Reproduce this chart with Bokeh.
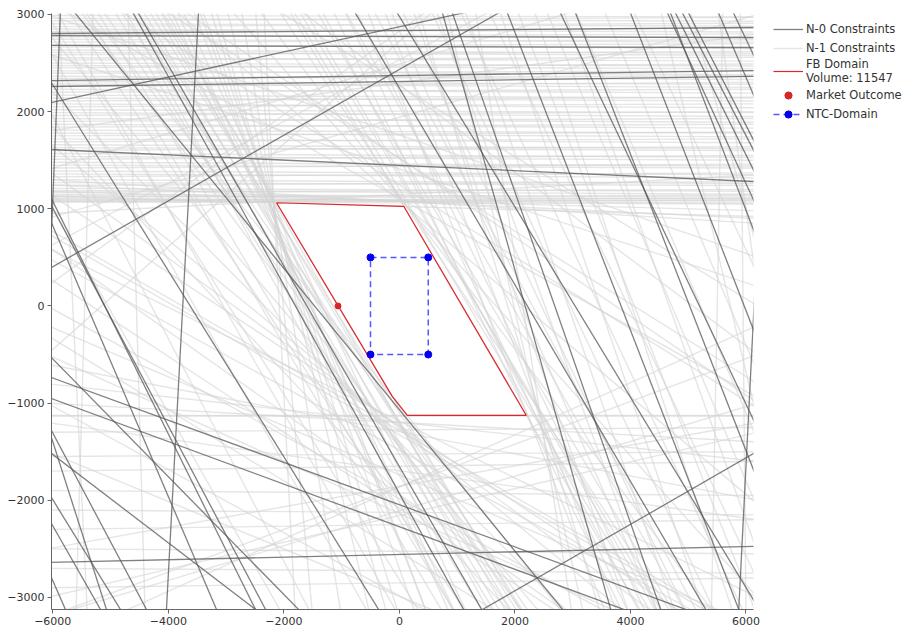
from bokeh.plotting import figure
from bokeh.layouts import row
from bokeh.models import Range1d, FixedTicker, Legend, LegendItem
from bokeh.embed import file_html
from bokeh.resources import INLINE

# ---------------- data ----------------
x_ticks = [-6000, -4000, -2000, 0, 2000, 4000, 6000]
y_ticks = [-3000, -2000, -1000, 0, 1000, 2000, 3000]

# N-0 constraints: each line through (x0,y0) and (x1,y1)
n0_x0 = [-6024, -6024, -6024, -6024, -6024, -6024, -6024, -6024, -5868, -5608, -4604, -4517, -3478, -759, -31,
         748, 921, 1874, 2792, 3052, 4004, 4645, 4697, 4784, 4905, 5009, 5529, 5788, 6395, 1441, -6024,
         -6024, -6024, -6024, -6024, -6024, -6024, -6024, -6024, -6024, -6024, -6024, -6024, -6024]
n0_y0 = [2804, 2783, 2681, 2320, 2259, 1610, 2094, 396, 3010, 3010, 3010, 3010, 3010, 3010, 3010,
         3010, 3010, 3010, 3010, 3010, 3010, 3010, 3010, 3010, 3010, 3010, 3010, 3010, 3010, -3123, -2639,
         -736, -952, -530, -1518, -1971, -2238, -2794, 1106, 1034, 859, 2300, -1281, -1353]
n0_x1 = [6134, 6134, 6134, 6134, 6134, 6134, 1060, 1701, -6007, 2827, 1112, 1424, -4032, 5303, 6134,
         3658, 4524, 5875, 6134, 6134, 6134, 6134, 6134, 6134, 6134, 6134, 6134, 6134, 5875, 6134, 6134,
         4957, 3883, -1746, -2491, -4829, -5175, -5781, -2491, -2317, -3166, -360, -4378, -5071]
n0_y1 = [2866, 2763, 2660, 2423, 2362, 1281, 3010, 3010, 983, -3123, -3123, -3123, -3123, -3123, -3030,
         -3123, -3123, -3123, -1178, -1693, -252, 1086, 777, 1394, 1600, 1703, 2166, 2578, -3123, -1518, -2475,
         -3123, -3123, -3123, -3123, -3123, -3123, -3123, -3123, -3123, -3123, -3123, -3123, -3123]

# N-1 constraints, near-horizontal (y at x=-6100, y at x=6200)
n1_h_left = [2990, 2960, 2935, 2905, 2875, 2850, 2825, 2795, 2770, 2745, 2715, 2690, 2665, 2635, 2610, 2585,
             2555, 2530, 2500, 2475, 2450, 2420, 2395, 2365, 2340, 2310, 2285, 2260, 2230, 2200, 2170, 2140,
             2110, 2080, 2050, 2020, 1990, 1960, 1930, 1900, 1870, 1840, 1810, 1780, 1750, 1720, 1690, 1660,
             1630, 1600, 1570, 1540, 1510, 1480, 1450, 1420, 1390, 1360, 1330, 1300, 1270, 1240, 1210, 1190,
             1170, 1150, 1135, 1120, 1105, 1095, 1085, 1075, 1070, 1180, 1250, 1300, 950, 1130,
             1400, 600, 200, -500, 1800, 900, 4000, 4500, 5000, 3000, 2600, 3800,
             -1132, -1300, -1550, -1700, -1900, -2100,
             -2300, -2500, -2700, -2900, -1000, -800, -600, -1200,
             -3000, -3200, -2500, -3200, -3500, -1127,
             -300, 0, 500, 800, -500, 300, -1000, -1500, -200, 600]
n1_h_right = [2975, 2930, 2970, 2880, 2910, 2820, 2860, 2760, 2800, 2715, 2740, 2650, 2700, 2600, 2580, 2620,
              2520, 2560, 2470, 2440, 2490, 2380, 2420, 2330, 2370, 2280, 2250, 2300, 2190, 2230, 2140, 2110,
              2150, 2040, 2080, 1990, 1950, 2000, 1890, 1930, 1830, 1870, 1780, 1740, 1790, 1680, 1720, 1620,
              1600, 1640, 1530, 1500, 1550, 1440, 1420, 1460, 1350, 1320, 1370, 1260, 1240, 1280, 1180, 1150,
              1200, 1120, 1100, 1140, 1080, 1060, 1110, 1050, 1090, 980, 900, 850, 1350, 919,
              3600, 4500, 5500, 6000, 2800, 3000, -1000, 0, -500, 500, 200, -800,
              -1132, -1250, -1500, -1600, -1950, -2150,
              -2200, -2550, -2750, -2800, -1400, -1600, -2000, -2200,
              -1300, -1000, -1200, -500, -200, -1127,
              -4800, -4000, -3500, -3400, -3800, -4500, -5000, -4500, -3300, -3000]

# N-1 constraints, steep (x at y=3100, x at y=-3200)
n1_s_top = [-4300, -4500, -5000, -4600, -3800, -3600, -3300, -3000, -3500, -5500, -6000, -6500, -7000, -8000,
            -5200, -4900, -4000, -4200, -2750, -2500, -2350, -6500, -7500, -9000, -10000, -8000, -12000,
            -11000, -13000, -4400, -4700, -5800, -6200, -3900, -3450, -3200, -5300, -4100, -4800, -5600,
            -1900, -1800, -1500, -1000, -500, 0, 500, 1000, 1500, 2000, 2500, 3000, -1000, -300, 300, 800,
            1300, -2500, -3000, -4000, -2150, -1200, -600, 3500, 4000, 4500, 5000, 5500, -5000, -6000, -1700,
            -1400, -800, -200, 200, 600, 1100, 1700, 2300, 2800,
            -4176, -1968, -5469, -5300, -4700, -5900, 5600, 5900]
n1_s_bot = [2000, 1800, 1500, 2100, 1200, 500, 0, -500, 300, 800, 0, -500, -1500, -2000,
            2000, 2300, 1000, 1600, -1000, -1500, -1800, 2500, 3000, 4000, 4500, 2000, 3000,
            5000, 5500, 2200, 1700, 1200, 400, 900, 500, -200, 1000, 1900, 1000, 2200,
            4400, 4600, 4800, 5000, 5200, 5000, 5500, 6000, 6500, 6200, 7000, 7500, 4000, 3800, 3500, 3200,
            3000, 5500, 6500, 8500, 4750, 3900, 3600, 8000, 9000, 7000, 8000, 7000, 12000, 13000, 4500,
            4200, 4300, 4500, 4000, 4500, 4800, 5300, 5800, 6600,
            2159, 4241, 2886, -5600, -4400, -5400, 5400, 6000]

# market results
fb_x = [-2127, 78, 2198, 137, -123, -2127]
fb_y = [1062, 1024, -1127, -1127, -931, 1062]
fb_volume = 11547
market_x = [-1062]
market_y = [0]
ntc_x = [-500, 500, 500, -500, -500]
ntc_y = [500, 500, -500, -500, 500]

# ---------------- styles ----------------
N0 = dict(line_color="#555555", line_alpha=0.75, line_width=1.3)
N1 = dict(line_color="#d4d4d4", line_alpha=0.6, line_width=1.4)
FB = dict(line_color="#e0262b", line_width=1.2)
MK = dict(size=6, color="#d62728")
NTCL = dict(line_color="#1f1fff", line_alpha=0.75, line_width=1.5, line_dash="6 4")
NTCP = dict(size=7, color="#0000ee")

# ---------------- build ----------------
def extend(x0, y0, x1, y1, k=0.08):
    dx, dy = x1 - x0, y1 - y0
    return [x0 - k * dx, x1 + k * dx], [y0 - k * dy, y1 + k * dy]

n0_xs, n0_ys = [], []
for a, b, c, d in zip(n0_x0, n0_y0, n0_x1, n0_y1):
    xs, ys = extend(a, b, c, d)
    n0_xs.append(xs)
    n0_ys.append(ys)

n1_xs, n1_ys = [], []
for yl, yr in zip(n1_h_left, n1_h_right):
    n1_xs.append([-6100, 6200])
    n1_ys.append([yl, yr])
for xt, xb in zip(n1_s_top, n1_s_bot):
    n1_xs.append([xt, xb])
    n1_ys.append([3100, -3200])

H = 631
WM = 765
p = figure(width=WM, height=H, x_range=Range1d(-6022, 6130), y_range=Range1d(-3124, 3010),
           output_backend="svg", toolbar_location=None,
           min_border_left=51, min_border_right=WM - 753, min_border_top=13, min_border_bottom=H - 609)
p.xgrid.grid_line_color = None
p.ygrid.grid_line_color = None
p.outline_line_color = None

for ax, tk in ((p.xaxis, x_ticks), (p.yaxis, y_ticks)):
    ax.ticker = FixedTicker(ticks=tk)
    ax.major_label_text_font = "DejaVu Sans"
    ax.major_label_text_font_size = "11px"
    ax.major_label_text_color = "#333333"
    ax.axis_line_color = "#666666"
    ax.major_tick_line_color = "#666666"
    ax.minor_tick_line_color = None
    ax.major_tick_in = 0
    ax.major_tick_out = 4
    ax.major_label_standoff = 3

p.multi_line(n1_xs, n1_ys, **N1)
p.multi_line(n0_xs, n0_ys, **N0)
p.line(fb_x, fb_y, **FB)
p.scatter(market_x, market_y, **MK)
p.line(ntc_x, ntc_y, **NTCL)
p.scatter(ntc_x[:4], ntc_y[:4], **NTCP)

# legend panel (separate figure to the right, same series styles; key glyphs kept off its range)
WL = 906 - WM
key_x = [5, 6]
key_y = [5, 6]
lg = figure(width=WL, height=H, x_range=Range1d(0, 1), y_range=Range1d(0, 1),
            output_backend="svg", toolbar_location=None, min_border=0,
            x_axis_location=None, y_axis_location=None)
lg.xgrid.grid_line_color = None
lg.ygrid.grid_line_color = None
lg.outline_line_color = None
g_n0 = lg.line(key_x, key_y, **N0)
g_n1 = lg.line(key_x, key_y, **N1)
g_fb = lg.line(key_x, key_y, **FB)
g_mk = lg.scatter(key_x, key_y, **MK)
g_ntl = lg.line(key_x, key_y, **NTCL)
g_ntp = lg.scatter(key_x, key_y, **NTCP)

legend = Legend(items=[
    LegendItem(label="N-0 Constraints", renderers=[g_n0]),
    LegendItem(label="N-1 Constraints", renderers=[g_n1]),
    LegendItem(label="FB Domain\nVolume: %d" % fb_volume, renderers=[g_fb]),
    LegendItem(label="Market Outcome", renderers=[g_mk]),
    LegendItem(label="NTC-Domain", renderers=[g_ntl, g_ntp]),
], location=(8, 486), margin=0, border_line_color=None, background_fill_alpha=0, padding=0, spacing=0,
    label_height=19, glyph_height=18, glyph_width=30, label_standoff=3, label_text_line_height=1.75,
    label_text_font="DejaVu Sans", label_text_font_size="11.5px", label_text_color="#333333")
lg.add_layout(legend)

layout = row(p, lg, spacing=0)
open("out.html", "w").write(file_html(layout, INLINE))
